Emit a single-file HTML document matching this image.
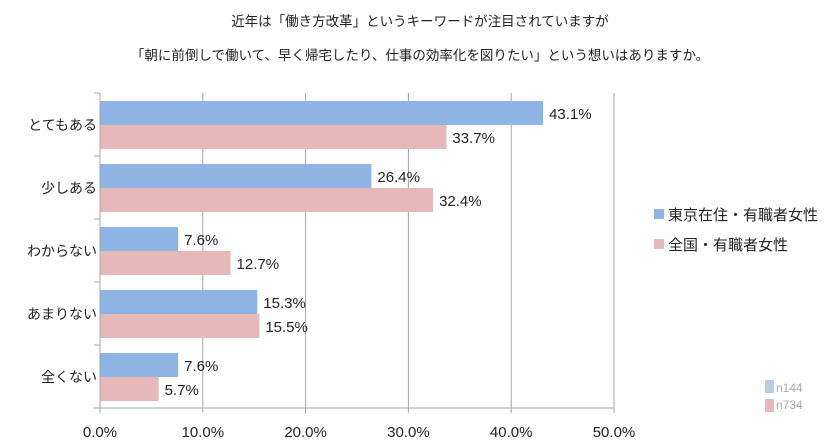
<!DOCTYPE html>
<html><head><meta charset="utf-8"><style>
body{margin:0;background:#fff;}
svg{display:block;font-family:"Liberation Sans","Noto Sans CJK JP",sans-serif;}
</style></head><body>
<svg width="840" height="446">
<g id="root"></g>
</svg>
<script>
const categories=["とてもある","少しある","わからない","あまりない","全くない"];
const tokyo=[43.1,26.4,7.6,15.3,7.6];
const national=[33.7,32.4,12.7,15.5,5.7];
const ticks=[0,10,20,30,40,50];
const NS="http://www.w3.org/2000/svg";
const root=document.getElementById('root');
const x0=100,x1=614,top0=93,rowH=63;
const xs=v=>x0+(v/50)*(x1-x0);
function mk(t,a,txt){const e=document.createElementNS(NS,t);for(const k in a)e.setAttribute(k,a[k]);if(txt!==undefined)e.textContent=txt;root.appendChild(e);return e;}
let e;
e=mk('text',{x:420,y:26,'text-anchor':'middle','font-size':13.5,fill:'#222'},'近年は「働き方改革」というキーワードが注目されていますが');

e=mk('text',{x:420,y:60,'text-anchor':'middle','font-size':13.5,fill:'#222'},'「朝に前倒しで働いて、早く帰宅したり、仕事の効率化を図りたい」という想いはありますか。');

const bottom=top0+rowH*categories.length;
ticks.forEach(t=>{
 if(t>0){e=mk('line',{x1:xs(t),x2:xs(t),y1:top0,y2:bottom,stroke:'#a6a6a6','stroke-width':1});
 }
 e=mk('line',{x1:xs(t),x2:xs(t),y1:bottom,y2:bottom+5,stroke:'#a6a6a6'});
 
 e=mk('text',{x:xs(t),y:bottom+29,'text-anchor':'middle','font-size':15,fill:'#222'},t.toFixed(1)+'%');
 
});
categories.forEach((c,i)=>{
 const y=top0+i*rowH;
 e=mk('line',{x1:x0-6,x2:x0,y1:y,y2:y,stroke:'#a6a6a6'});
 
 e=mk('rect',{x:x0,y:y+8,width:xs(tokyo[i])-x0,height:24,fill:'#8db4e2'});
 
 e=mk('rect',{x:x0,y:y+32,width:xs(national[i])-x0,height:24,fill:'#e6b8b7'});
 
 e=mk('text',{x:xs(tokyo[i])+6,y:y+26,'font-size':15,fill:'#222'},tokyo[i].toFixed(1)+'%');
 
 e=mk('text',{x:xs(national[i])+6,y:y+50,'font-size':15,fill:'#222'},national[i].toFixed(1)+'%');
 
 e=mk('text',{x:x0-3,y:y+37,'text-anchor':'end','font-size':14,fill:'#222'},c);
 
});
e=mk('line',{x1:x0-6,x2:x0,y1:bottom,y2:bottom,stroke:'#a6a6a6'});

e=mk('line',{x1:x0,x2:x0,y1:top0,y2:bottom,stroke:'#a6a6a6'});

e=mk('line',{x1:x0,x2:x1,y1:bottom,y2:bottom,stroke:'#a6a6a6'});

e=mk('rect',{x:654,y:209,width:10,height:10,fill:'#8db4e2'});

e=mk('text',{x:668,y:220,'font-size':15,fill:'#222'},'東京在住・有職者女性');

e=mk('rect',{x:654,y:239,width:10,height:10,fill:'#e6b8b7'});

e=mk('text',{x:668,y:250,'font-size':15,fill:'#222'},'全国・有職者女性');

e=mk('rect',{x:765,y:380,width:9,height:13,fill:'#b8cce4'});

e=mk('text',{x:776,y:392,'font-size':12,fill:'#aaa'},'n144');

e=mk('rect',{x:765,y:399,width:9,height:13,fill:'#e6b8b7'});

e=mk('text',{x:776,y:409,'font-size':12,fill:'#aaa'},'n734');

</script>
</body></html>
